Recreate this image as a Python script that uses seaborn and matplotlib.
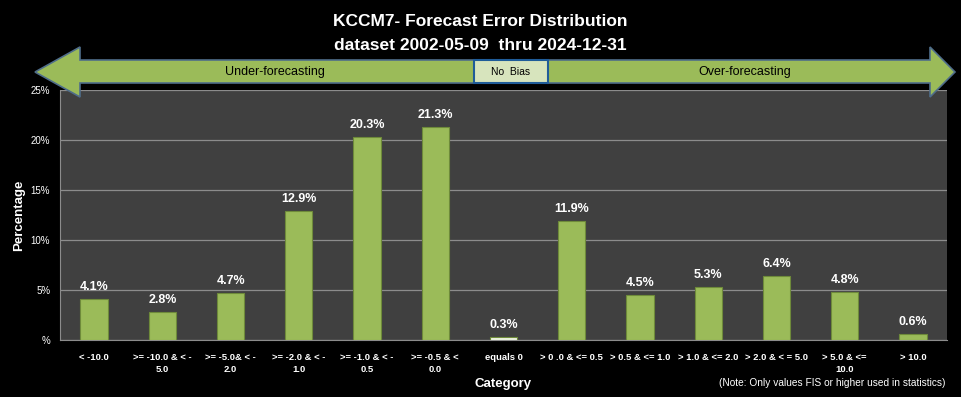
import pandas as pd
import numpy as np
import matplotlib
matplotlib.use('Agg')
import matplotlib.pyplot as plt
import seaborn as sns
from matplotlib.patches import Polygon, Rectangle

# data
categories = ['< -10.0', '>= -10.0 & < -\n5.0', '>= -5.0& < -\n2.0', '>= -2.0 & < -\n1.0',
              '>= -1.0 & < -\n0.5', '>= -0.5 & <\n0.0', 'equals 0', '> 0 .0 & <= 0.5',
              '> 0.5 & <= 1.0', '> 1.0 & <= 2.0', '> 2.0 & < = 5.0', '> 5.0 & <=\n10.0', '> 10.0']
percentages = [4.1, 2.8, 4.7, 12.9, 20.3, 21.3, 0.3, 11.9, 4.5, 5.3, 6.4, 4.8, 0.6]
y_ticks = [0, 5, 10, 15, 20, 25]
y_tick_labels = ['%', '5%', '10%', '15%', '20%', '25%']

sns.set_style('dark')
plt.rcParams['font.family'] = ['Liberation Sans', 'DejaVu Sans']

GREEN = '#9BBB59'
DARK_GREEN = '#6E8A3A'

df = pd.DataFrame({'Category': categories, 'Percentage': percentages})
palette = {c: ('#EEF3E2' if c == 'equals 0' else GREEN) for c in categories}

fig = plt.figure(figsize=(9.61, 3.97), dpi=100, facecolor='black')
ax = fig.add_axes([60 / 961, 57 / 397, 887 / 961, 250 / 397])
ax.set_facecolor('#404040')

sns.barplot(data=df, x='Category', y='Percentage', hue='Category', palette=palette,
            legend=False, width=0.4, saturation=1, edgecolor=DARK_GREEN, linewidth=0.8,
            ax=ax, zorder=3)

for p, v in zip(ax.patches, percentages):
    ax.annotate(f'{v}%', (p.get_x() + p.get_width() / 2, v), xytext=(0, 4),
                textcoords='offset points', ha='center', va='bottom',
                color='white', fontsize=9, fontweight='bold')

ax.set_ylim(0, 25)
ax.set_xlim(-0.5, len(categories) - 0.5)
ax.set_yticks(y_ticks)
ax.set_yticklabels(y_tick_labels, color='white', fontsize=7)
ax.yaxis.grid(True, color='#8C8C8C', linewidth=0.9, zorder=0)
ax.xaxis.grid(False)

ax.set_xticks(np.arange(len(categories)))
ax.set_xticklabels(categories, color='white', fontsize=6.8, fontweight='bold', linespacing=1.5)
ax.set_xticks(np.arange(len(categories) + 1) - 0.5, minor=True)
ax.tick_params(axis='x', which='major', length=0, pad=9)
ax.tick_params(axis='x', which='minor', length=4, color='#8C8C8C', direction='out')
ax.tick_params(axis='y', length=4, color='#8C8C8C', direction='out', pad=3)

for side in ['top', 'right']:
    ax.spines[side].set_visible(False)
for side in ['left', 'bottom']:
    ax.spines[side].set_color('#8C8C8C')

ax.set_ylabel('Percentage', color='white', fontsize=9.5, fontweight='bold', labelpad=4)
ax.set_xlabel('Category', color='white', fontsize=9.5, fontweight='bold', labelpad=3)

# title
fig.text(0.5, 1 - 22 / 397, 'KCCM7- Forecast Error Distribution', color='white',
         fontsize=12.5, fontweight='bold', ha='center', va='center')
fig.text(0.5, 1 - 46 / 397, 'dataset 2002-05-09  thru 2024-12-31', color='white',
         fontsize=12.5, fontweight='bold', ha='center', va='center')


# double arrow across the top (pixel coords -> figure fraction)
def px(x, y):
    return (x / 961, 1 - y / 397)


arrow_pts = [px(35, 72), px(80, 47), px(80, 60), px(930, 60), px(930, 47), px(955, 72),
             px(930, 97), px(930, 83), px(80, 83), px(80, 97)]
fig.patches.append(Polygon(arrow_pts, closed=True, transform=fig.transFigure,
                           facecolor=GREEN, edgecolor='#4F6D8A', linewidth=1.2, zorder=10))
x0, y0 = px(474, 83)
x1, y1 = px(548, 60)
fig.patches.append(Rectangle((x0, y0), x1 - x0, y1 - y0, transform=fig.transFigure,
                             facecolor='#D7E4BD', edgecolor='#1F5C99', linewidth=1.5, zorder=11))
fig.text(*px(511, 72), 'No  Bias', color='black', fontsize=7.5, ha='center', va='center', zorder=12)
fig.text(*px(275, 72), 'Under-forecasting', color='black', fontsize=9, ha='center', va='center', zorder=12)
fig.text(*px(745, 72), 'Over-forecasting', color='black', fontsize=9, ha='center', va='center', zorder=12)

fig.text(*px(832, 383), '(Note: Only values FIS or higher used in statistics)', color='white',
         fontsize=7.3, ha='center', va='center')

plt.savefig('out.png', dpi=100, facecolor='black')
plt.close()
